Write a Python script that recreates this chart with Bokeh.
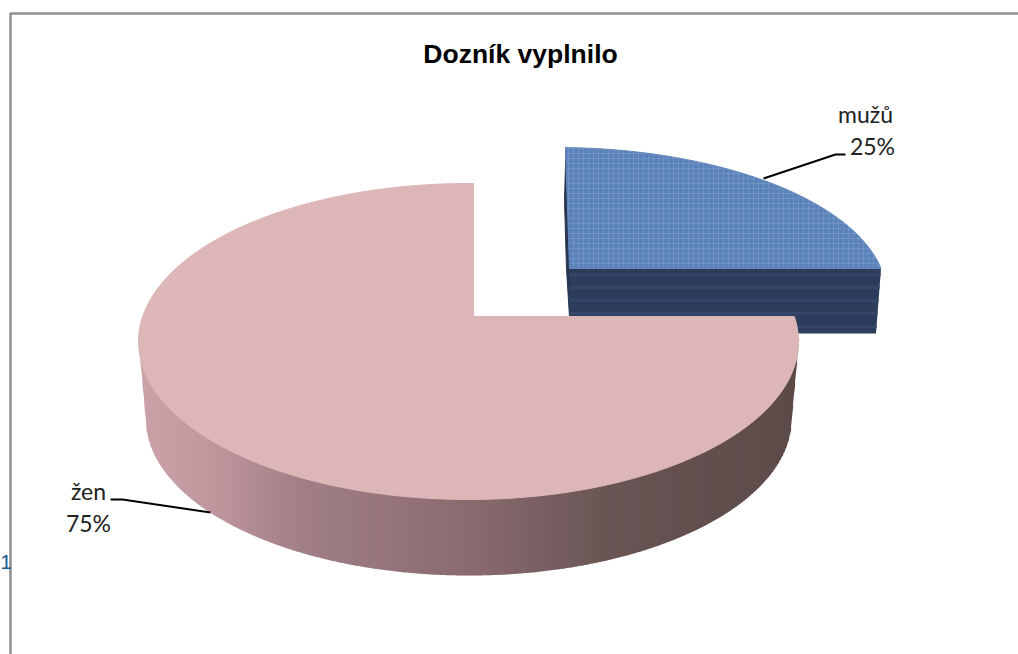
import math
from bokeh.plotting import figure
from bokeh.models import Range1d
from bokeh.core.properties import value
from bokeh.embed import file_html
from bokeh.resources import INLINE

title_text = "Dozník vyplnilo"
categories = ["mužů", "žen"]
percent = [25, 75]
stray_label = "1"

W, H = 1018, 654
p = figure(width=W, height=H, output_backend="svg", toolbar_location=None,
           x_range=Range1d(0, W), y_range=Range1d(H, 0), min_border=0,
           background_fill_color="white", border_fill_color="white")
p.axis.visible = False
p.grid.visible = False
p.outline_line_color = None


def rim(frac, vertex, centre, rx, ry):
    """Point on an ellipse reached from the wedge apex; frac 0 = up, clockwise."""
    t = 2 * math.pi * frac
    dx, dy = math.sin(t) * rx, -math.cos(t) * ry
    ox, oy = vertex[0] - centre[0], vertex[1] - centre[1]
    a = (dx / rx) ** 2 + (dy / ry) ** 2
    b = 2 * (ox * dx / rx ** 2 + oy * dy / ry ** 2)
    c = (ox / rx) ** 2 + (oy / ry) ** 2 - 1
    s = (-b + math.sqrt(b * b - 4 * a * c)) / (2 * a)
    return vertex[0] + s * dx, vertex[1] + s * dy


def sector(start, stop, vertex, centre, rx, ry, n=160):
    pts = [rim(start + (stop - start) * i / n, vertex, centre, rx, ry) for i in range(n + 1)]
    return [vertex[0]] + [q[0] for q in pts], [vertex[1]] + [q[1] for q in pts]


def mix(stops, u):
    for (u0, c0), (u1, c1) in zip(stops, stops[1:]):
        if u <= u1:
            k = (u - u0) / (u1 - u0)
            return "#%02x%02x%02x" % tuple(round(c0[i] + (c1[i] - c0[i]) * k) for i in range(3))
    return "#%02x%02x%02x" % stops[-1][1]


fracs = [v / sum(percent) for v in percent]

# frame
p.line([10, 10, W], [H, 13, 13], line_color="#8f8f8f", line_width=2.5)

# blue slice (pulled out)
bv, bc, brx, bry = (569, 268), (560, 292), 325, 145
bx, by = sector(0, fracs[0], bv, bc, brx, bry)
bx = [x + (y - bv[1]) * 0.033 for x, y in zip(bx, by)]
end = rim(fracs[0], bv, bc, brx, bry)
depth = 65
p.patch([565.5, 564, 566, 570, 600, 600], [147, 200, 268, 333, 333, 200], color="#27364f")
p.patch([bv[0], end[0], end[0] - 5, bv[0]], [bv[1], end[1], end[1] + depth, bv[1] + depth],
        color="#2c3d5b", line_color=None)
for k in range(6, depth, 13):
    p.line([bv[0], end[0] - 5 * k / depth], [bv[1] + k, end[1] + k],
           line_color="#33466a", line_width=3)
p.patch(bx, by, fill_color="#5c82ba", line_color="#6488bd", line_width=1,
        hatch_pattern="cross", hatch_color="#86a6d4", hatch_alpha=0.4, hatch_scale=5, hatch_weight=1)

# pink slice
pv, pc, prx, pry = (473, 316), (468, 341), 330, 158
lc, lrx, lry = (468, 418), 323, 157
wall = [(0.0, (202, 162, 167)), (0.12, (190, 150, 156)), (0.25, (160, 126, 133)),
        (0.5, (138, 107, 112)), (0.72, (104, 84, 83)), (1.0, (92, 74, 72))]
xl, xr = pc[0] - prx, pc[0] + prx
n = 330


def top(x):
    return pc[1] + pry * math.sqrt(max(0, 1 - ((x - pc[0]) / prx) ** 2))


def low(x):
    e = (x - lc[0]) / lrx
    if abs(e) <= 1:
        return lc[1] + lry * math.sqrt(1 - e * e)
    if x < lc[0]:
        return pc[1] + (lc[1] - pc[1]) * (x - xl) / (lc[0] - lrx - xl)
    return pc[1] + (lc[1] - pc[1]) * (xr - x) / (xr - lc[0] - lrx)


for i in range(n):
    x0 = xl + (xr - xl) * i / n
    x1 = xl + (xr - xl) * (i + 1) / n
    col = mix(wall, (x0 - xl) / (xr - xl))
    p.patch([x0, x1 + 0.6, x1 + 0.6, x0], [top(x0) - 3, top(x1) - 3, low(x1), low(x0)],
            color=col, line_color=None)

px, py = sector(fracs[0], 1, pv, pc, prx, pry, n=320)
p.patch(px, py, fill_color="#ddb7b7", line_color="#ddb7b7", line_width=1)

# leader lines
p.line([763, 835, 845], [178, 154, 154], line_color="black", line_width=2)
p.line([110, 122, 210], [499, 499, 512], line_color="black", line_width=2)

# texts
p.text([520], [53], text=[title_text], text_font=value("Liberation Sans"), text_font_style="bold",
       text_font_size="26.5px", text_align="center", text_baseline="middle", text_color="black")
font = value("Lato")
for cat, val, cx, y0 in zip(categories, percent, [865, 88], [113, 490]):
    p.text([cx], [y0], text=[cat], text_font=font, text_font_size="23px",
           text_align="center", text_baseline="middle", text_color="#222222")
    p.text([cx + (7 if cat == "mužů" else 0)], [y0 + 32], text=[f"{val}%"], text_font=font,
           text_font_size="23px", text_align="center", text_baseline="middle", text_color="#222222")
p.text([5.5], [561], text=[stray_label], text_font=value("Liberation Sans"), text_font_size="20px",
       text_align="center", text_baseline="middle", text_color="#17598f")

open("out.html", "w").write(file_html(p, INLINE))
